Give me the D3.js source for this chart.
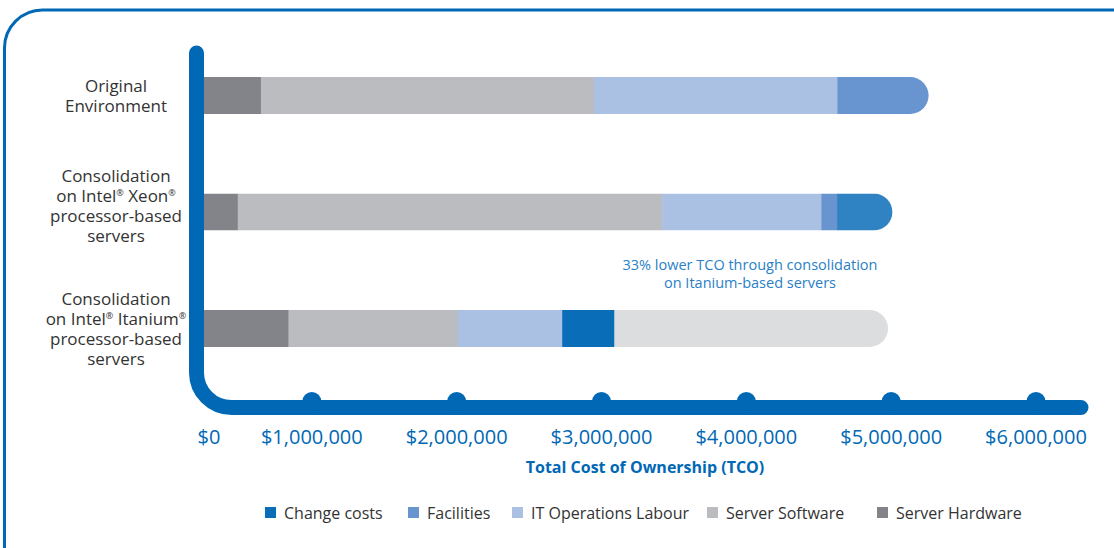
<!DOCTYPE html>
<html>
<head>
<meta charset="utf-8">
<script src="https://cdn.jsdelivr.net/npm/d3@7"></script>
<style>
  html, body { margin: 0; padding: 0; background: #fff; }
  svg { display: block; font-family: "Open Sans", "Noto Sans", sans-serif; }
</style>
</head>
<body>
<div id="chart"></div>
<script>
'use strict';

// ─── Data ─────────────────────────────────────────────────────────────────────
const categories = ['Original', 'Xeon', 'Itanium'];
const categoryLabels = [
  ['Original', 'Environment'],
  ['Consolidation', 'on Intel® Xeon®', 'processor-based', 'servers'],
  ['Consolidation', 'on Intel® Itanium®', 'processor-based', 'servers'],
];
const seriesNames = ['Server Hardware', 'Server Software', 'IT Operations Labour', 'Facilities', 'Change costs'];
const originalValues = [400000, 2300000, 1680000, 630000, 0];
const xeonValues     = [240000, 2930000, 1100000, 110000, 380000];
const itaniumValues  = [590000, 1170000, 720000, 0, 360000];
const itaniumSavings = 1890000;   // light grey remainder up to the Xeon total
const tickValues = [0, 1000000, 2000000, 3000000, 4000000, 5000000, 6000000];
const legendOrder = ['Change costs', 'Facilities', 'IT Operations Labour', 'Server Software', 'Server Hardware'];
const noteLines = ['33% lower TCO through consolidation', 'on Itanium-based servers'];

// ─── Styles ───────────────────────────────────────────────────────────────────
const BLUE = '#0068b5';
const COLORS = {
  'Server Hardware':      '#838489',
  'Server Software':      '#bbbcc0',
  'IT Operations Labour': '#abc1e3',
  'Facilities':           '#6895cf',
  'Change costs':         '#0a6db7',
  'Savings':              '#dcdddf',
};

const W = 1114, H = 548;
const BAR_LEFT = 203;
const BAR_H = 37;
const AXIS_X = 196.5, AXIS_Y = 407.5, AXIS_W = 15, CORNER_R = 35;
const LABEL_NUDGE = { Original: 0, Xeon: -6, Itanium: 0 };   // the Xeon label sits a bit high in the original

const svg = d3.select('#chart').append('svg').attr('width', W).attr('height', H);

// Outer rounded frame
svg.append('rect')
  .attr('x', 4.5).attr('y', 10).attr('width', 1300).attr('height', 700)
  .attr('rx', 38).attr('fill', 'none').attr('stroke', BLUE).attr('stroke-width', 3);

// ─── Scales ───────────────────────────────────────────────────────────────────
const x = d3.scaleLinear().domain([0, 6000000]).range([167, 1036]);
const barX = v => BAR_LEFT + x(v) - x(0);
const y = d3.scaleBand().domain(categories).range([37.25, 386.75]);

// ─── Bars ─────────────────────────────────────────────────────────────────────
const rows = [
  { key: 'Original', values: originalValues, extra: 0 },
  { key: 'Xeon',     values: xeonValues,     extra: 0 },
  { key: 'Itanium',  values: itaniumValues,  extra: itaniumSavings },
];

rows.forEach((row, i) => {
  const segs = [];
  let acc = 0;
  row.values.forEach((v, j) => {
    if (v > 0) segs.push({ name: seriesNames[j], start: acc, end: acc + v });
    acc += v;
  });
  if (row.extra > 0) { segs.push({ name: 'Savings', start: acc, end: acc + row.extra }); acc += row.extra; }

  const yTop = y(row.key) + y.bandwidth() / 2 - BAR_H / 2;
  const clipId = 'clip-' + i;
  const clip = svg.append('clipPath').attr('id', clipId);
  clip.append('rect')
    .attr('x', barX(0)).attr('y', yTop)
    .attr('width', barX(acc) - barX(0)).attr('height', BAR_H)
    .attr('rx', BAR_H / 2);
  clip.append('rect')
    .attr('x', barX(0)).attr('y', yTop)
    .attr('width', (barX(acc) - barX(0)) / 2).attr('height', BAR_H);

  svg.append('g').attr('clip-path', `url(#${clipId})`)
    .selectAll('rect').data(segs).join('rect')
    .attr('x', d => barX(d.start))
    .attr('y', yTop)
    .attr('width', d => barX(d.end) - barX(d.start) + 0.5)
    .attr('height', BAR_H)
    .attr('fill', d => COLORS[d.name])
    // the Xeon change block is a touch lighter in the original
    .attr('fill-opacity', d => (row.key === 'Xeon' && d.name === 'Change costs') ? 0.85 : 1);
});

// ─── Category labels ──────────────────────────────────────────────────────────
const LH = 20;
categories.forEach((c, i) => {
  const lines = categoryLabels[i];
  const cy = y(c) + y.bandwidth() / 2 + LABEL_NUDGE[c];
  lines.forEach((ln, k) => {
    const t = svg.append('text')
      .attr('x', 116)
      .attr('y', cy - (lines.length - 1) * LH / 2 + k * LH + 6)
      .attr('text-anchor', 'middle')
      .attr('font-size', 17)
      .attr('fill', '#333');
    // registered marks as small superscripts
    ln.split(/(®)/).forEach(part => {
      if (!part) return;
      if (part === '®') {
        t.append('tspan').attr('font-size', 9).attr('baseline-shift', '70%').text('®');
      } else {
        t.append('tspan').text(part);
      }
    });
  });
});

// ─── Axis (rounded L shape with tick bumps) ──────────────────────────────────
svg.append('path')
  .attr('d', `M${AXIS_X},53 V${AXIS_Y - CORNER_R} A${CORNER_R},${CORNER_R} 0 0 0 ${AXIS_X + CORNER_R},${AXIS_Y} H1081`)
  .attr('fill', 'none').attr('stroke', BLUE)
  .attr('stroke-width', AXIS_W).attr('stroke-linecap', 'round');

svg.selectAll('circle.tick').data(tickValues.filter(d => d > 0)).join('circle')
  .attr('class', 'tick')
  .attr('cx', d => x(d)).attr('cy', AXIS_Y - 6).attr('r', 9.5)
  .attr('fill', BLUE);

const fmt = d3.format('$,');
svg.selectAll('text.tl').data(tickValues).join('text')
  .attr('class', 'tl')
  .attr('x', d => d === 0 ? 209 : x(d))
  .attr('y', 444)
  .attr('text-anchor', 'middle')
  .attr('font-size', 20)
  .attr('fill', BLUE)
  .text(d => fmt(d));

svg.append('text')
  .attr('x', 645).attr('y', 473)
  .attr('text-anchor', 'middle')
  .attr('font-size', 16).attr('font-weight', 'bold')
  .attr('fill', BLUE)
  .text('Total Cost of Ownership (TCO)');

// ─── Annotation ───────────────────────────────────────────────────────────────
svg.append('text')
  .attr('text-anchor', 'middle')
  .attr('font-size', 14.5)
  .attr('fill', '#2a7fc6')
  .selectAll('tspan').data(noteLines).join('tspan')
  .attr('x', 750)
  .attr('y', (d, i) => 270 + i * 18)
  .text(d => d);

// ─── Legend ──────────────────────────────────────────────────────────────────
const legendX = [265, 408, 512, 707, 877];
const lg = svg.append('g').selectAll('g').data(legendOrder).join('g')
  .attr('transform', (d, i) => `translate(${legendX[i]}, 513)`);
lg.append('rect').attr('x', 0).attr('y', -6).attr('width', 11).attr('height', 11)
  .attr('fill', d => COLORS[d]);
lg.append('text').attr('x', 19).attr('y', 6)
  .attr('font-size', 16).attr('fill', '#333')
  .text(d => d);
</script>
</body>
</html>
